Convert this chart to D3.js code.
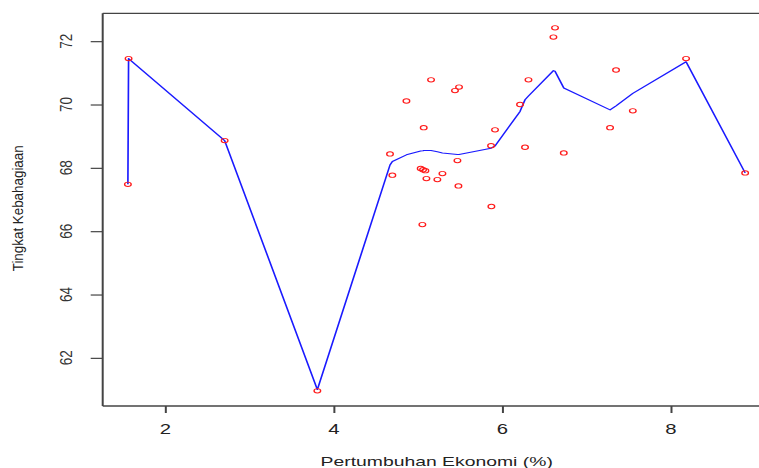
<!DOCTYPE html>
<html>
<head>
<meta charset="utf-8">
<script src="https://cdn.jsdelivr.net/npm/d3@7"></script>
<style>
  html, body { margin: 0; padding: 0; background: #fff; }
  svg { display: block; }
  text { font-family: "Liberation Sans", Arial, sans-serif; }
</style>
</head>
<body>
<svg id="chart" width="759" height="468"></svg>
<script>
// ---- data ----
const xTicks = [2, 4, 6, 8];
const yTicks = [62, 64, 66, 68, 70, 72];
const xTitle = "Pertumbuhan Ekonomi (%)";
const yTitle = "Tingkat Kebahagiaan";

// scatter points: economic growth (%) vs happiness index
const growth = [1.564, 1.556, 2.704, 3.804, 4.666, 4.694, 4.861, 5.153, 5.066, 5.030,
                5.058, 5.086, 5.098, 5.228, 5.288, 5.050, 5.437, 5.485, 5.466, 5.478,
                5.865, 5.912, 5.869, 6.209, 6.309, 6.268, 6.624, 6.605, 6.728, 7.277,
                7.348, 7.547, 8.179, 8.880];
const happiness = [71.45, 67.48, 68.86, 60.96, 68.44, 67.77, 70.11, 70.78, 69.27, 67.98,
                   67.94, 67.91, 67.66, 67.63, 67.82, 66.21, 70.44, 70.55, 68.23, 67.43,
                   68.70, 69.20, 66.78, 70.00, 70.78, 68.65, 72.42, 72.13, 68.47, 69.27,
                   71.09, 69.80, 71.45, 67.84];

// smoothed (lowess-like) blue curve vertices
const smoothX = [1.556, 1.564, 2.704, 3.804, 4.666, 4.694, 4.861, 5.030, 5.058, 5.066,
                 5.086, 5.098, 5.153, 5.228, 5.288, 5.437, 5.466, 5.478, 5.485, 5.865,
                 5.869, 5.912, 6.209, 6.268, 6.309, 6.605, 6.624, 6.728, 7.277, 7.348,
                 7.547, 8.179, 8.880];
const smoothY = [67.48, 71.45, 68.86, 61.00, 68.09, 68.20, 68.41, 68.53, 68.54, 68.55,
                 68.55, 68.55, 68.55, 68.51, 68.47, 68.43, 68.42, 68.42, 68.42, 68.62,
                 68.63, 68.69, 69.78, 70.15, 70.27, 71.07, 71.05, 70.52, 69.83, 69.96,
                 70.35, 71.35, 67.84];

// ---- layout ----
const SX = 1.5; // horizontal stretch seen in the reference
const pLeft = 102.7, pRight = 769, pTop = 13.3, pBottom = 406;

const svg = d3.select("#chart");
const x = d3.scaleLinear().domain([1.257, 9.163]).range([pLeft, pRight]);
const y = d3.scaleLinear().domain([60.48, 72.88]).range([pBottom, pTop]);

// stretched group for marks (so strokes look like the reference)
const g = svg.append("g").attr("transform", `scale(${SX},1)`);

const line = d3.line()
  .x((d, i) => x(smoothX[i]) / SX)
  .y((d, i) => y(smoothY[i]));

g.append("path")
  .datum(smoothX)
  .attr("d", line)
  .attr("fill", "none")
  .attr("stroke", "#1a1aff")
  .attr("stroke-width", 1.1)
  .attr("stroke-linejoin", "round");

g.selectAll("circle.pt")
  .data(growth)
  .join("circle")
  .attr("class", "pt")
  .attr("cx", (d) => x(d) / SX)
  .attr("cy", (d, i) => y(happiness[i]))
  .attr("r", 2.2)
  .attr("fill", "none")
  .attr("stroke", "#ff1a1a")
  .attr("stroke-width", 0.9);

// ---- axes ----
const axisColor = "#444";
const xAxis = svg.append("g")
  .attr("transform", `translate(0,${pBottom})`)
  .call(d3.axisBottom(x).tickValues(xTicks).tickSize(7).tickFormat(""));
xAxis.select(".domain").remove();
xAxis.selectAll(".tick line").attr("stroke", axisColor).attr("stroke-width", 2);

const yAxis = svg.append("g")
  .attr("transform", `translate(${pLeft},0)`)
  .call(d3.axisLeft(y).tickValues(yTicks).tickSize(12).tickFormat(""));
yAxis.select(".domain").remove();
yAxis.selectAll(".tick line").attr("stroke", axisColor).attr("stroke-width", 1.2);

// box
svg.append("line").attr("x1", pLeft).attr("x2", pRight).attr("y1", pTop).attr("y2", pTop)
  .attr("stroke", axisColor).attr("stroke-width", 1.3);
svg.append("line").attr("x1", pLeft).attr("x2", pRight).attr("y1", pBottom).attr("y2", pBottom)
  .attr("stroke", axisColor).attr("stroke-width", 1.3);
svg.append("line").attr("x1", pLeft).attr("x2", pLeft).attr("y1", pTop).attr("y2", pBottom)
  .attr("stroke", axisColor).attr("stroke-width", 2);
svg.append("line").attr("x1", pRight).attr("x2", pRight).attr("y1", pTop).attr("y2", pBottom)
  .attr("stroke", axisColor).attr("stroke-width", 2);

// tick labels
svg.selectAll("text.xtl")
  .data(xTicks)
  .join("text")
  .attr("class", "xtl")
  .attr("transform", (d) => `translate(${x(d)},434.3) scale(1.45,1)`)
  .attr("text-anchor", "middle")
  .attr("font-size", 14)
  .attr("fill", "#222")
  .text((d) => d);

svg.selectAll("text.ytl")
  .data(yTicks)
  .join("text")
  .attr("class", "ytl")
  .attr("transform", (d) => `translate(71.7,${y(d)}) scale(1.27,1) rotate(-90)`)
  .attr("text-anchor", "middle")
  .attr("font-size", 13.5)
  .attr("fill", "#333")
  .text((d) => d);

// titles
svg.append("text")
  .attr("transform", `translate(436.7,466) scale(1.49,1)`)
  .attr("text-anchor", "middle")
  .attr("font-size", 13)
  .attr("fill", "#222")
  .text(xTitle);

svg.append("text")
  .attr("transform", `translate(23,208.3) scale(1.05,1) rotate(-90)`)
  .attr("text-anchor", "middle")
  .attr("font-size", 13.4)
  .attr("fill", "#222")
  .text(yTitle);
</script>
</body>
</html>
